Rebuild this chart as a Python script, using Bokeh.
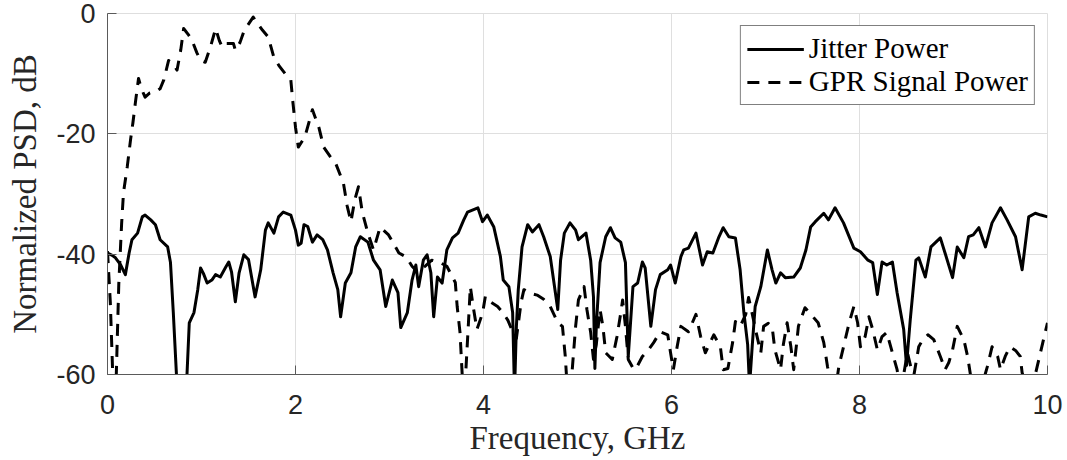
from bokeh.plotting import figure
from bokeh.models import Range1d, FixedTicker, Legend, LegendItem
from bokeh.embed import file_html
from bokeh.resources import INLINE

# ---- data ----
jitter_freq = [0.00, 0.05, 0.085, 0.14, 0.19, 0.23, 0.26, 0.32, 0.37, 0.40, 0.46, 0.51, 0.56, 0.64, 0.67,
               0.70, 0.74, 0.79, 0.84, 0.87, 0.92, 0.96, 0.99, 1.02, 1.06, 1.11, 1.15, 1.20, 1.26, 1.29,
               1.32, 1.36, 1.40, 1.45, 1.50, 1.57, 1.63, 1.68, 1.71, 1.77, 1.82, 1.87, 1.95, 2.00, 2.03,
               2.06, 2.09, 2.13, 2.18, 2.23, 2.29, 2.34, 2.40, 2.45, 2.48, 2.53, 2.59, 2.64, 2.69, 2.77,
               2.83, 2.90, 2.96, 3.03, 3.09, 3.12, 3.19, 3.24, 3.28, 3.31, 3.36, 3.40, 3.44, 3.47, 3.51,
               3.56, 3.61, 3.67, 3.73, 3.79, 3.83, 3.94, 3.99, 4.04, 4.11, 4.18, 4.21, 4.27, 4.31, 4.33,
               4.35, 4.37, 4.41, 4.47, 4.52, 4.59, 4.64, 4.71, 4.79, 4.82, 4.86, 4.92, 4.98, 5.01, 5.09,
               5.14, 5.17, 5.185, 5.20, 5.24, 5.30, 5.35, 5.40, 5.46, 5.51, 5.54, 5.59, 5.64, 5.69, 5.72,
               5.78, 5.83, 5.88, 5.96, 5.99, 6.04, 6.10, 6.13, 6.18, 6.26, 6.33, 6.38, 6.44, 6.50, 6.55,
               6.61, 6.68, 6.73, 6.77, 6.81, 6.83, 6.86, 6.89, 6.95, 7.02, 7.07, 7.11, 7.16, 7.21, 7.30,
               7.37, 7.43, 7.48, 7.53, 7.62, 7.67, 7.74, 7.83, 7.94, 8.01, 8.09, 8.14, 8.19, 8.24, 8.29,
               8.35, 8.40, 8.47, 8.50, 8.54, 8.60, 8.63, 8.70, 8.76, 8.86, 8.91, 8.99, 9.04, 9.11, 9.16,
               9.21, 9.27, 9.34, 9.41, 9.50, 9.57, 9.66, 9.73, 9.80, 9.87, 9.93, 10.00]
jitter_db = [-39.8, -40.2, -40.6, -41.8, -43.4, -39.8, -37.6, -36.5, -33.8, -33.5, -34.3, -35.1, -37.6, -38.8, -41.4,
             -49.7, -62.0, -66.0, -62.0, -51.4, -49.7, -45.9, -42.3, -43.2, -44.8, -44.3, -43.4, -43.8, -42.1, -41.3,
             -43.0, -47.9, -43.1, -40.1, -40.9, -47.1, -42.6, -36.0, -34.8, -36.5, -33.8, -33.0, -33.5, -36.0, -38.5,
             -38.2, -35.1, -35.4, -38.0, -36.8, -37.6, -39.3, -43.1, -45.9, -50.4, -44.8, -43.1, -38.8, -37.1, -38.0,
             -41.0, -42.6, -48.7, -44.3, -46.4, -52.2, -49.7, -44.3, -41.8, -45.4, -41.0, -40.1, -43.1, -50.4, -43.8,
             -44.8, -39.3, -37.3, -36.5, -34.3, -33.0, -32.3, -34.6, -33.5, -35.5, -40.4, -44.3, -45.4, -49.7, -63.0,
             -52.0, -45.9, -38.8, -35.1, -36.3, -35.1, -37.1, -40.4, -49.2, -41.0, -36.5, -34.8, -36.0, -37.6, -36.5,
             -41.0, -47.1, -59.0, -52.0, -41.4, -37.1, -35.6, -37.3, -38.0, -41.4, -57.0, -45.4, -44.8, -41.3, -42.3,
             -52.0, -45.9, -43.4, -42.6, -41.8, -44.8, -40.4, -39.3, -39.0, -36.5, -41.8, -39.6, -39.8, -37.3, -35.6,
             -37.1, -37.3, -42.6, -49.7, -55.0, -62.0, -55.0, -48.7, -45.4, -39.3, -42.6, -44.8, -43.1, -43.9, -43.8,
             -42.3, -39.3, -35.5, -34.6, -33.2, -34.3, -32.3, -34.8, -39.0, -39.6, -41.0, -41.4, -46.7, -41.3, -41.8,
             -41.3, -46.4, -52.5, -58.5, -50.9, -41.0, -40.6, -43.8, -38.8, -37.3, -39.8, -43.9, -38.8, -40.6, -37.1,
             -36.8, -35.6, -38.8, -34.8, -32.3, -34.3, -37.1, -42.6, -33.8, -33.2, -33.5, -33.8]

gpr_freq = [0.00, 0.03, 0.06, 0.09, 0.12, 0.15, 0.17, 0.21, 0.245, 0.27, 0.30, 0.33, 0.36, 0.40, 0.45,
            0.51, 0.56, 0.60, 0.65, 0.70, 0.74, 0.78, 0.81, 0.86, 0.90, 0.95, 0.99, 1.04, 1.10, 1.15,
            1.19, 1.22, 1.26, 1.30, 1.34, 1.36, 1.41, 1.45, 1.49, 1.55, 1.59, 1.65, 1.71, 1.77, 1.83,
            1.89, 1.95, 1.97, 2.00, 2.03, 2.10, 2.18, 2.25, 2.30, 2.37, 2.43, 2.51, 2.55, 2.59, 2.63,
            2.67, 2.71, 2.77, 2.83, 2.90, 2.99, 3.10, 3.18, 3.24, 3.30, 3.38, 3.45, 3.55, 3.61, 3.70,
            3.72, 3.75, 3.78, 3.81, 3.84, 3.86, 3.89, 3.93, 3.99, 4.02, 4.08, 4.15, 4.21, 4.26, 4.31,
            4.35, 4.40, 4.43, 4.50, 4.57, 4.64, 4.71, 4.79, 4.84, 4.87, 4.89, 4.93, 4.96, 4.98, 5.01,
            5.07, 5.10, 5.14, 5.17, 5.20, 5.24, 5.27, 5.30, 5.37, 5.42, 5.46, 5.48, 5.51, 5.54, 5.60,
            5.64, 5.69, 5.75, 5.81, 5.88, 5.96, 5.99, 6.02, 6.06, 6.10, 6.18, 6.26, 6.31, 6.36, 6.45,
            6.52, 6.55, 6.60, 6.65, 6.68, 6.73, 6.79, 6.82, 6.86, 6.90, 6.95, 6.98, 7.03, 7.07, 7.10,
            7.16, 7.19, 7.23, 7.27, 7.30, 7.33, 7.35, 7.42, 7.46, 7.56, 7.62, 7.66, 7.70, 7.75, 7.78,
            7.83, 7.89, 7.94, 7.98, 8.01, 8.06, 8.10, 8.14, 8.19, 8.24, 8.29, 8.35, 8.40, 8.43, 8.47,
            8.51, 8.55, 8.58, 8.63, 8.68, 8.73, 8.79, 8.86, 8.91, 8.95, 8.99, 9.04, 9.11, 9.15, 9.20,
            9.30, 9.36, 9.41, 9.47, 9.50, 9.55, 9.60, 9.66, 9.71, 9.73, 9.78, 9.84, 9.89, 9.95, 10.00]
gpr_db = [-39.5, -48.0, -62.0, -62.0, -45.0, -35.0, -29.8, -25.5, -21.0, -18.2, -14.4, -10.8, -12.5, -13.9, -13.2,
          -13.0, -12.5, -11.0, -7.8, -8.5, -9.4, -6.0, -2.5, -3.5, -4.5, -6.5, -7.8, -8.1, -5.3, -2.5,
          -4.5, -5.6, -5.0, -5.0, -5.0, -6.1, -4.8, -3.0, -2.0, -0.6, -1.5, -2.8, -3.9, -7.3, -8.8,
          -10.0, -11.0, -14.4, -18.9, -22.2, -20.5, -16.0, -19.0, -22.2, -23.8, -25.0, -28.2, -32.0, -34.6, -31.0,
          -28.8, -33.0, -36.5, -39.3, -35.5, -36.8, -39.8, -40.5, -42.0, -43.0, -42.0, -41.0, -41.5, -42.0, -44.7,
          -48.7, -53.0, -62.0, -60.0, -51.4, -45.4, -48.7, -52.5, -49.8, -47.0, -48.0, -48.7, -49.8, -51.0, -52.9,
          -54.0, -48.0, -45.9, -46.5, -46.8, -47.5, -48.7, -51.4, -52.0, -57.0, -62.0, -62.0, -56.0, -52.0, -47.6,
          -45.4, -49.2, -53.0, -57.5, -55.0, -49.2, -52.0, -56.4, -57.5, -53.7, -49.8, -47.6, -52.0, -57.5, -59.2,
          -58.5, -57.0, -56.0, -54.7, -52.9, -53.4, -56.4, -59.2, -55.4, -52.0, -52.9, -50.0, -53.7, -56.4, -53.4,
          -55.4, -59.2, -59.0, -54.7, -51.2, -52.0, -50.0, -47.2, -50.0, -53.0, -56.4, -52.0, -51.5, -52.0, -55.9,
          -59.2, -55.0, -51.4, -55.4, -59.2, -55.0, -52.0, -48.9, -49.6, -51.4, -54.7, -58.7, -62.0, -62.0, -58.7,
          -55.4, -51.4, -48.7, -51.4, -55.4, -53.7, -50.4, -52.5, -55.9, -53.7, -53.0, -56.4, -59.2, -62.0, -60.0,
          -56.4, -59.0, -60.0, -55.4, -54.0, -53.4, -54.2, -57.0, -59.2, -58.0, -55.9, -52.0, -54.2, -57.0, -62.0,
          -62.0, -58.7, -55.4, -57.0, -59.2, -57.0, -55.4, -56.0, -57.0, -59.7, -62.0, -62.0, -58.7, -54.7, -51.4]

x_ticks = [0, 2, 4, 6, 8, 10]
y_ticks = [-60, -40, -20, 0]
y_tick_labels = ["-60", "-40", "-20", "0"]
series_names = ["Jitter Power", "GPR Signal Power"]

TXT = "#262626"
AX = "#5a5a5a"

p = figure(width=1067, height=460, output_backend="svg", toolbar_location=None,
           x_range=Range1d(0, 10), y_range=Range1d(-60, 0),
           min_border_left=107, min_border_right=20, min_border_top=13, min_border_bottom=86)
p.background_fill_color = "white"
p.border_fill_color = "white"
p.outline_line_color = "#dedede"

p.xgrid.ticker = FixedTicker(ticks=x_ticks)
p.ygrid.ticker = FixedTicker(ticks=y_ticks)
for g in (p.xgrid, p.ygrid):
    g.grid_line_color = "#dfdfdf"
    g.grid_line_width = 1

p.xaxis.ticker = FixedTicker(ticks=x_ticks)
p.yaxis.ticker = FixedTicker(ticks=y_ticks)
p.yaxis.major_label_overrides = {t: s for t, s in zip(y_ticks, y_tick_labels)}
for ax in (p.xaxis, p.yaxis):
    ax.axis_line_color = AX
    ax.axis_line_width = 1
    ax.major_tick_line_color = AX
    ax.major_tick_in = 9
    ax.major_tick_out = 0
    ax.minor_tick_line_color = None
    ax.major_label_text_font = "Liberation Sans"
    ax.major_label_text_font_size = "27px"
    ax.major_label_text_color = TXT
    ax.axis_label_text_font = "Liberation Serif"
    ax.axis_label_text_font_size = "33px"
    ax.axis_label_text_font_style = "normal"
    ax.axis_label_text_color = TXT

p.xaxis.axis_label = "Frequency, GHz"
p.yaxis.axis_label = "Normalized PSD, dB"
p.xaxis.major_label_standoff = 20
p.xaxis.axis_label_standoff = 3
p.yaxis.major_label_standoff = 12
p.yaxis.axis_label_standoff = 10

r1 = p.line(jitter_freq, jitter_db, line_color="black", line_width=3, line_join="round")
r2 = p.line(gpr_freq, gpr_db, line_color="black", line_width=3, line_dash="12 9", line_join="round")

legend = Legend(items=[LegendItem(label=series_names[0], renderers=[r1]),
                       LegendItem(label=series_names[1], renderers=[r2])],
                location="top_right", margin=12, padding=6, spacing=0,
                glyph_width=57, glyph_height=30, label_standoff=5, label_height=30,
                label_text_font="Liberation Serif", label_text_font_size="29px",
                label_text_color="black", border_line_color="black", border_line_width=1,
                background_fill_color="white", background_fill_alpha=1)
p.add_layout(legend, "center")

open("out.html", "w").write(file_html(p, INLINE))
